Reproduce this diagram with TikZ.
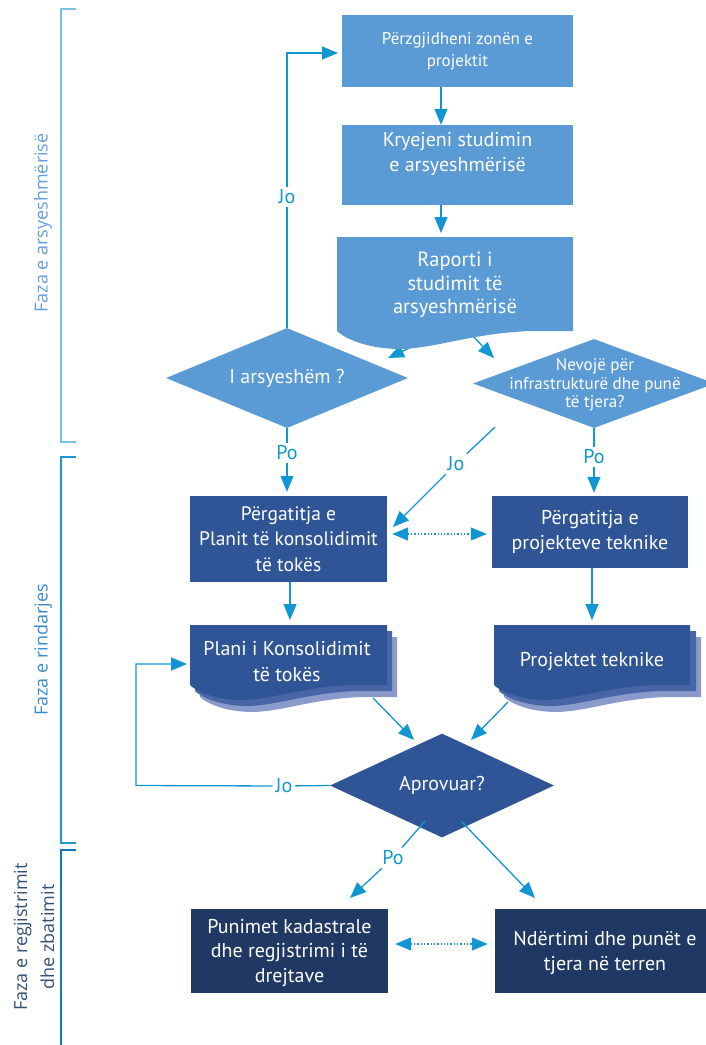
\documentclass[tikz,border=0pt]{standalone}
\usepackage{fontspec}
\setmainfont{PT Sans}
\newfontfamily\sidefont{Open Sans}
\usetikzlibrary{arrows.meta,shapes.geometric}

\definecolor{boxlight}{RGB}{91,155,213}
\definecolor{boxmid}{RGB}{47,85,151}
\definecolor{boxdark}{RGB}{32,56,100}
\definecolor{shadeA}{RGB}{72,102,166}
\definecolor{shadeB}{RGB}{138,155,203}
\definecolor{flowblue}{RGB}{16,150,210}
\definecolor{phaseA}{RGB}{120,195,225}
\definecolor{phaseB}{RGB}{30,150,210}
\definecolor{phaseC}{RGB}{20,120,190}
\definecolor{phaseAtext}{RGB}{100,160,215}
\definecolor{phaseBtext}{RGB}{55,140,205}
\definecolor{phaseCtext}{RGB}{50,80,120}

\tikzset{%
  every box/.style={
    rectangle,
    text=white,
    align=center,
    inner sep=2pt
  },
  light box/.style={every box, fill=boxlight},
  mid box/.style={every box, fill=boxmid},
  dark box/.style={every box, fill=boxdark},
  decision/.style={
    diamond,
    inner sep=0pt,
    text=white,
    align=center
  },
  text small/.style={font=\fontsize{17}{22}\selectfont},
  text large/.style={font=\fontsize{20}{25.5}\selectfont},
  answer/.style={
    text=flowblue,
    inner sep=3pt,
    font=\fontsize{20}{22}\selectfont
  },
  flow/.style={draw=flowblue, line width=1.3pt},
  link/.style={flow, dotted, <->},
  phase line/.style={line width=1.6pt},
  phase text/.style={
    rotate=90,
    align=center,
    font=\sidefont\fontsize{18}{27}\selectfont
  },
}

% document shape: fill, left, top, right, bottom
\newcommand{\wavedoc}[5]{%
  \fill [#1] (#2,#3) -- (#4,#3) -- (#4,#5)
    -- ({#4-0.18*(#4-#2)},#5)
    .. controls ({#4-0.44*(#4-#2)},{#5+0.01*(#4-#2)}) and ({#4-0.6*(#4-#2)},{#5+0.08*(#4-#2)})
    .. ({#2+0.25*(#4-#2)},{#5+0.076*(#4-#2)})
    .. controls ({#2+0.12*(#4-#2)},{#5+0.072*(#4-#2)}) and ({#2+0.03*(#4-#2)},{#5+0.03*(#4-#2)})
    .. (#2,#5) -- cycle;
}

\begin{document}
\begin{tikzpicture}[x=1pt, y=-1pt, >={Triangle[length=16pt,width=13pt]}]
  \useasboundingbox (0,0) rectangle (705,1045);
  % phases
  \draw [phase line, draw=phaseA] (76,9) -- (61,9) -- (61,442) -- (76,442);
  \draw [phase line, draw=phaseB] (76,457) -- (61,457) -- (61,843) -- (76,843);
  \draw [phase line, draw=phaseC] (76,850) -- (61,850) -- (61,1050);
  \node [phase text, text=phaseAtext] (phase-1) at (43,223) {Faza e arsyeshmërisë};
  \node [phase text, text=phaseBtext] (phase-2) at (43,650) {Faza e rindarjes};
  \node [phase text, text=phaseCtext] (phase-3) at (34,937) {Faza e regjistrimit\\dhe zbatimit};

  % arrows leaving the report (start hidden under it)
  \coordinate (r-1) at (420,343);
  \coordinate (r-2) at (470,333);
  \coordinate (dec-1-in) at (388,358);
  \coordinate (dec-2-in) at (494,358);
  \draw [flow, ->] (r-1) -- (dec-1-in);
  \draw [flow, ->] (r-2) -- (dec-2-in);

  % Faza e arsyeshmerise
  \node [light box, text small, minimum width=231pt, minimum height=72pt] (box-1) at (457.5,51) {Përzgjidheni zonën e\\projektit};
  \node [light box, minimum width=231pt, minimum height=80pt] (box-2) at (457.5,165) {};
  \node [every box, text large] (box-2-txt) at (457.5,154) {Kryejeni studimin\\e arsyeshmërisë};
  \wavedoc{boxlight}{337}{237}{573}{331}
  \node [every box, font=\fontsize{20.5}{23.5}\selectfont] (doc-1) at (455,285) {Raporti i\\studimit të\\arsyeshmërisë};
  \node [decision, fill=boxlight, minimum width=242pt, minimum height=100pt] (dec-1) at (287,378) {};
  \node [every box, text large] (dec-1-txt) at (dec-1) {I arsyeshëm ?};
  \node [decision, fill=boxlight, minimum width=242pt, minimum height=89pt] (dec-2) at (594,383.5) {};
  \node [every box, font=\fontsize{17}{18.5}\selectfont] (dec-2-txt) at (595,385) {Nevojë për\\infrastrukturë dhe punë\\të tjera?};

  \coordinate (doc-1-in) at (441,233);
  \draw [flow, ->] ([xshift=-16.5pt]box-1.south) -- ([xshift=-16.5pt]box-2.north);
  \draw [flow, ->] ([xshift=-16.5pt]box-2.south) -- (doc-1-in);

  \node [answer] (jo-1) at (287,197) {Jo};
  \coordinate (box-1-in) at (338,53);
  \draw [flow] (dec-1.north) -- (jo-1);
  \draw [flow, ->] (jo-1) |- (box-1-in);

  % Faza e rindarjes
  \node [mid box, font=\fontsize{19.5}{25.5}\selectfont, minimum width=197pt, minimum height=86pt] (box-3) at (288.5,539) {Përgatitja e\\Planit të konsolidimit\\të tokës};
  \node [mid box, text large, minimum width=196pt, minimum height=72pt] (box-4) at (590,532) {Përgatitja e\\projekteve teknike};

  \node [answer] (po-1) at (287,453) {Po};
  \draw [flow] (dec-1.south) -- (po-1);
  \draw [flow, ->, shorten >=4pt] (po-1) -- (po-1 |- box-3.north);
  \node [answer] (po-2) at (594,457) {Po};
  \draw [flow] (dec-2.south) -- (po-2);
  \draw [flow, ->, shorten >=3pt] (po-2) -- (po-2 |- box-4.north);
  \coordinate (j-2) at (495,427);
  \coordinate (box-3-in) at (393,527);
  \node [answer] (jo-2) at (456,464) {Jo};
  \draw [flow] (j-2) -- (jo-2);
  \draw [flow, ->] (jo-2) -- (box-3-in);
  \draw [link] ([xshift=5pt,yshift=5pt]box-3.east) -- ([xshift=-5pt,yshift=-2pt]box-4.west);

  \wavedoc{shadeB}{200}{637}{397}{697}
  \wavedoc{shadeA}{195}{631}{392}{691}
  \wavedoc{boxmid}{190}{625}{387}{685}
  \node [every box, font=\fontsize{20}{26}\selectfont] (doc-2) at (287,662) {Plani i Konsolidimit\\të tokës};
  \wavedoc{shadeB}{504}{637}{701}{697}
  \wavedoc{shadeA}{499}{631}{696}{691}
  \wavedoc{boxmid}{494}{625}{690}{685}
  \node [every box, text large] (doc-3) at (592,662) {Projektet teknike};

  \coordinate (doc-2-in) at (290,620);
  \coordinate (doc-3-in) at (592,620);
  \draw [flow, ->] (box-3.south -| doc-2-in) -- (doc-2-in);
  \draw [flow, ->] (box-4.south -| doc-3-in) -- (doc-3-in);

  \node [decision, fill=boxmid, text large, minimum width=224pt, minimum height=83pt] (dec-3) at (442,785.5) {Aprovuar?};
  \coordinate (c-1) at (373,698);
  \coordinate (c-2) at (508,702);
  \coordinate (dec-3-in-1) at (414,740);
  \coordinate (dec-3-in-2) at (471,740);
  \draw [flow, ->] (c-1) -- (dec-3-in-1);
  \draw [flow, ->] (c-2) -- (dec-3-in-2);

  \node [answer] (jo-3) at (284,786) {Jo};
  \coordinate (loop-3) at (136,785.5);
  \coordinate (doc-2-back) at (187,664);
  \draw [flow] (dec-3.west) -- (jo-3);
  \draw [flow, ->] (jo-3) -- (loop-3) |- (doc-2-back);

  % Faza e regjistrimit dhe zbatimit
  \node [dark box, minimum width=197pt, minimum height=84pt] (box-5) at (289.5,951) {};
  \node [every box, font=\fontsize{20}{24.5}\selectfont] (box-5-txt) at (289.5,953) {Punimet kadastrale\\dhe regjistrimi i të\\drejtave};
  \node [dark box, minimum width=220pt, minimum height=84pt] (box-6) at (605,951) {};
  \node [every box, font=\fontsize{20}{25}\selectfont] (box-6-txt) at (605,953) {Ndërtimi dhe punët e\\tjera në terren};

  \coordinate (p-3) at (425,821);
  \coordinate (q-3) at (461,821);
  \coordinate (box-5-in) at (350,898);
  \coordinate (box-6-in) at (535,898);
  \node [answer] (po-3) at (393,858) {Po};
  \draw [flow] (p-3) -- (po-3);
  \draw [flow, ->] (po-3) -- (box-5-in);
  \draw [flow, ->] (q-3) -- (box-6-in);
  \draw [link] ([xshift=7pt,yshift=7pt]box-5.east) -- ([xshift=-7pt,yshift=7pt]box-6.west);
\end{tikzpicture}
\end{document}
